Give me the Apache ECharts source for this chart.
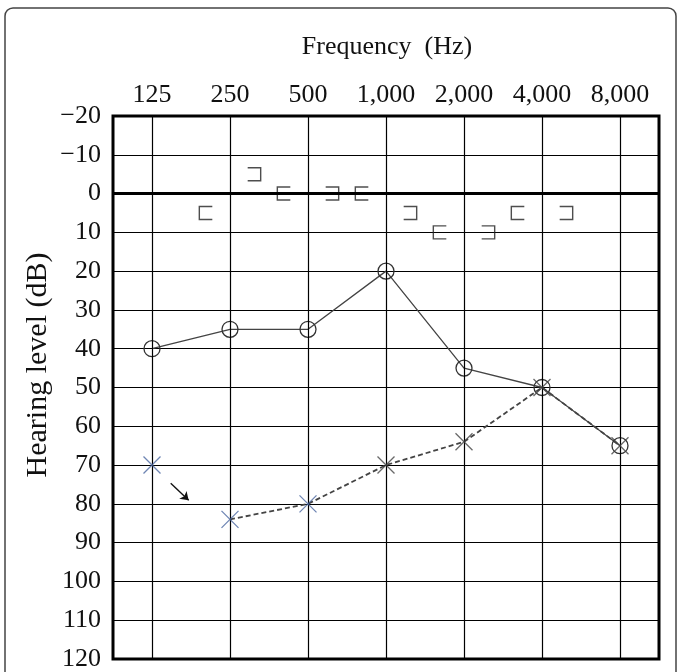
<!DOCTYPE html>
<html>
<head>
    <meta charset="UTF-8">
    <title>Audiogram</title>
    <script src="https://cdn.jsdelivr.net/npm/echarts@6/dist/echarts.min.js"></script>
    <style>
        body { margin: 0; background: #fff; }
    </style>
</head>
<body>
<div id="chart" style="width:677px; height:672px;"></div>
<script>
    // frequency columns, one octave apart
    var freqLabels = ['125', '250', '500', '1,000', '2,000', '4,000', '8,000'];
    var freqIndex = [0, 1, 2, 3, 4, 5, 6];

    // air conduction (dB HL)
    var rightAir = [40, 35, 35, 20, 45, 50, 65];      // O
    var leftAir = [70, 84, 80, 70, 64, 50, 65];       // X
    // bone conduction (dB HL)
    var rightBone = [null, 5, 0, 0, 10, 5, null];     // [
    var leftBone = [null, -5, 0, 5, 10, 5, null];     // ]
    // arrow next to the 125 Hz X  [freq index, dB]
    var arrowFrom = [0.24, 74.7];
    var arrowTo = [0.47, 79.1];

    var serif = 'Liberation Serif';
    var boneShift = 0.31;   // brackets sit beside the frequency line

    function pairs(vals, shift) {
        var out = [];
        vals.forEach(function (v, i) {
            if (v !== null) out.push([freqIndex[i] + shift, v]);
        });
        return out;
    }

    var chart = echarts.init(document.getElementById('chart'), null, {renderer: 'canvas'});
    var option = {
        animation: false,
        grid: {
            left: 113, right: 18, top: 116, bottom: 10,
            show: true, borderColor: '#000', borderWidth: 3, backgroundColor: '#fff'
        },
        xAxis: {
            type: 'value',
            position: 'top',
            min: -0.5,
            max: 6.5,
            axisLine: {show: false},
            axisTick: {show: false},
            splitLine: {show: false},
            axisLabel: {
                customValues: freqIndex,
                formatter: function (v) { return freqLabels[Math.round(v)]; },
                fontFamily: serif, fontSize: 26, color: '#111', margin: 8
            }
        },
        yAxis: {
            type: 'value',
            inverse: true,
            min: -20,
            max: 120,
            interval: 10,
            axisLine: {show: false},
            axisTick: {show: false},
            splitLine: {lineStyle: {color: '#000', width: 1.2}},
            axisLabel: {
                formatter: function (v) { return v < 0 ? '\u2212' + Math.abs(v) : String(v); },
                fontFamily: serif, fontSize: 26, color: '#111', margin: 12
            }
        },
        graphic: [
            {
                type: 'rect', silent: true,
                shape: {x: 5, y: 8, width: 671, height: 720, r: 8},
                style: {fill: 'none', stroke: '#444', lineWidth: 1.5}
            },
            {
                type: 'text', x: 387, y: 47,
                style: {text: 'Frequency  (Hz)', font: '26px "Liberation Serif"', fill: '#111',
                    align: 'center', verticalAlign: 'middle'}
            },
            {
                type: 'text', x: 38, y: 365, rotation: Math.PI / 2,
                style: {text: 'Hearing level (dB)', font: '30px "Liberation Serif"', fill: '#111',
                    align: 'center', verticalAlign: 'middle'}
            }
        ],
        series: [
            {
                // right air conduction, solid line with open circles
                type: 'line',
                data: pairs(rightAir, 0),
                symbol: 'circle',
                symbolSize: 16,
                itemStyle: {color: 'rgba(0,0,0,0)', borderColor: '#333', borderWidth: 1.3},
                lineStyle: {color: '#444', width: 1.3},
                z: 4,
                markLine: {
                    silent: true,
                    symbol: 'none',
                    label: {show: false},
                    lineStyle: {color: '#000', width: 1.2, type: 'solid'},
                    data: freqIndex.map(function (i) { return {xAxis: i}; })
                        .concat([{yAxis: 0, lineStyle: {width: 3}}])
                }
            },
            {
                // left air conduction, dashed from 250 Hz on
                type: 'line',
                data: pairs(leftAir, 0).slice(1),
                showSymbol: false,
                lineStyle: {color: '#444', width: 1.8, type: [5, 3]},
                z: 3,
                markLine: {
                    silent: true,
                    symbol: ['none', 'arrow'],
                    symbolSize: 8,
                    label: {show: false},
                    lineStyle: {color: '#111', width: 1.4, type: 'solid'},
                    data: [[{coord: arrowFrom}, {coord: arrowTo}]]
                }
            },
            {
                type: 'scatter',
                symbol: 'path://M0,0L10,10M10,0L0,10',
                symbolSize: 17,
                z: 5,
                data: pairs(leftAir, 0).map(function (p, i) {
                    return {
                        value: p,
                        itemStyle: {color: 'none', borderColor: i < 3 ? '#4a66a0' : '#444', borderWidth: 1.3}
                    };
                })
            },
            {
                type: 'scatter',
                symbol: 'path://M10,0L0,0L0,10L10,10',
                symbolSize: [13, 13],
                itemStyle: {color: 'none', borderColor: '#222', borderWidth: 1.4},
                data: pairs(rightBone, -boneShift)
            },
            {
                type: 'scatter',
                symbol: 'path://M0,0L10,0L10,10L0,10',
                symbolSize: [13, 13],
                itemStyle: {color: 'none', borderColor: '#222', borderWidth: 1.4},
                data: pairs(leftBone, boneShift)
            }
        ]
    };
    chart.setOption(option);
</script>
</body>
</html>
